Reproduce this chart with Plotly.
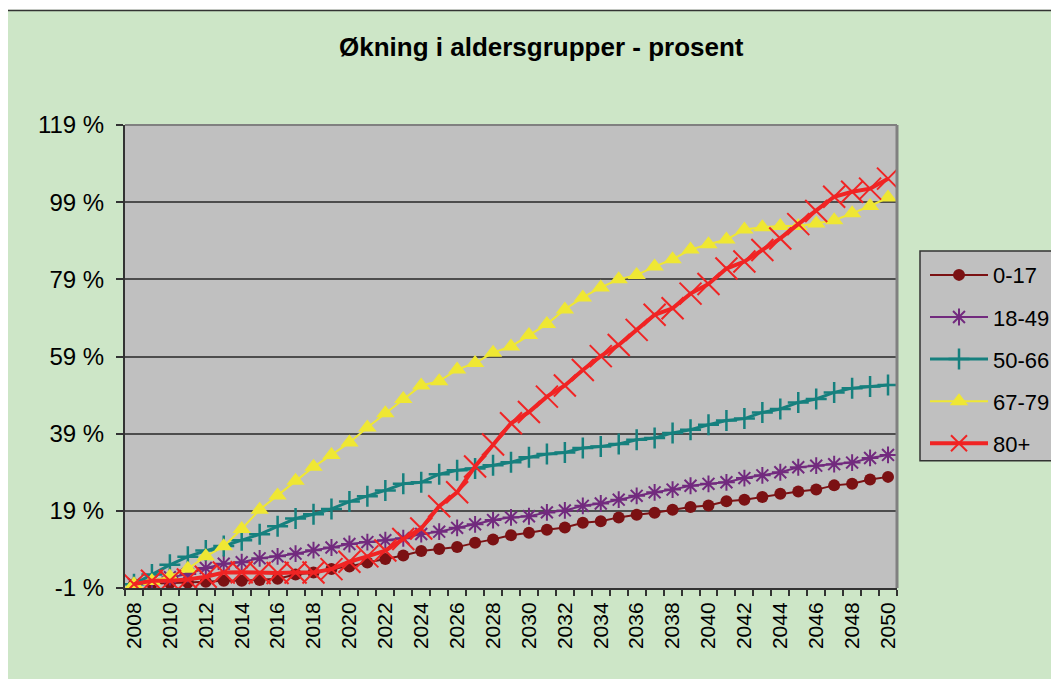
import plotly.graph_objects as go

years = list(range(2008, 2051))

age_0_17 = [0, 0.1, 0.3, 0.4, 0.6, 0.9, 0.9, 1.1, 1.4, 2.5, 3.0, 3.9, 4.6, 5.6, 6.5, 7.4,
            8.6, 9.1, 9.6, 10.7, 11.6, 12.7, 13.3, 14.1, 14.7, 15.9, 16.3, 17.3, 18.0, 18.5,
            19.3, 20.0, 20.4, 21.5, 21.9, 22.6, 23.4, 24.0, 24.5, 25.6, 26.0, 27.1, 27.8]
age_18_49 = [0, 0.9, 1.8, 2.6, 4.2, 5.3, 5.7, 6.7, 7.2, 7.9, 8.8, 9.5, 10.4, 10.9, 11.4, 11.9,
             13.0, 13.6, 14.6, 15.5, 16.6, 17.3, 17.6, 18.6, 19.1, 20.3, 20.9, 21.9, 22.9, 23.8,
             24.5, 25.5, 26.0, 26.4, 27.5, 28.2, 29.0, 30.3, 30.7, 31.1, 31.5, 32.7, 33.5]
age_50_66 = [0, 2.5, 5.0, 7.1, 8.7, 9.9, 11.4, 12.9, 15.0, 17.0, 18.1, 19.5, 21.4, 22.8, 24.3,
             26.0, 26.4, 28.5, 29.5, 30.0, 30.8, 31.6, 32.9, 33.7, 34.1, 35.3, 35.7, 36.3, 37.4,
             37.9, 39.2, 40.0, 41.3, 42.4, 42.9, 44.5, 45.4, 47.1, 48.0, 49.7, 50.8, 51.2, 51.6]
age_67_79 = [0, 0.8, 2.0, 4.0, 7.2, 9.8, 14.3, 19.3, 23.0, 26.8, 30.4, 33.5, 36.7, 40.6, 44.3,
             48.0, 51.5, 52.6, 55.6, 57.3, 60.0, 61.6, 64.6, 67.4, 71.2, 74.3, 76.9, 79.0, 80.1,
             82.3, 84.2, 86.7, 88.1, 89.3, 91.9, 92.5, 92.8, 92.8, 93.5, 94.3, 96.1, 98.0, 100.2]
age_80_plus = [0, 0.9, 0.9, 1.2, 1.9, 3.0, 3.1, 2.9, 2.9, 3.0, 3.0, 3.9, 5.8, 7.2, 8.7, 11.7,
               14.4, 20.2, 23.8, 30.5, 36.2, 41.7, 44.6, 48.6, 51.5, 55.5, 59.1, 62.0, 65.9,
               69.8, 71.5, 75.3, 77.8, 81.8, 83.6, 86.6, 89.6, 93.3, 96.7, 100.4, 101.7, 102.5, 105.1]

series_names = ["0-17", "18-49", "50-66", "67-79", "80+"]
y_ticks = [-1, 19, 39, 59, 79, 99, 119]
x_label_years = list(range(2008, 2051, 2))
title_text = "Økning i aldersgrupper - prosent"

FONT = "Arial, Liberation Sans, sans-serif"
GREEN = "#CDE6C7"

styles = [
    dict(color="#7B1113", width=2, symbol="circle", size=12, mline=0),
    dict(color="#722A7E", width=2, symbol="asterisk-open", size=14, mline=2),
    dict(color="#16807E", width=3, symbol="cross-thin-open", size=15, mline=2.5),
    dict(color="#EFE733", width=2, symbol="triangle-up", size=16, mline=0),
    dict(color="#F02424", width=4, symbol="x-thin-open", size=22, mline=2),
]
data = [age_0_17, age_18_49, age_50_66, age_67_79, age_80_plus]

fig = go.Figure()
for name, vals, st in zip(series_names, data, styles):
    fig.add_trace(go.Scatter(
        x=years, y=vals, name=name, mode="lines+markers", legendgroup=name,
        line=dict(color=st["color"], width=st["width"]),
        marker=dict(symbol=st["symbol"], size=st["size"], color=st["color"],
                    line=dict(color=st["color"], width=st["mline"])),
    ))

# page offset from default body margin
OFF = 8
W, H = 1059, 679
# plot area in page pixels
PL, PR, PT, PB = 125, 897, 124.7, 588.5
L = PL - OFF
T = PT - OFF
R = W - (PR - OFF)
B = H - (PB - OFF)
pw, ph = PR - PL, PB - PT


def px_x(px):
    return (px - PL) / pw


def px_y(py):
    return (PB - py) / ph


shapes = [
    # chart border top and left
    dict(type="line", xref="paper", yref="paper", x0=px_x(3), x1=px_x(1090),
         y0=px_y(10), y1=px_y(10), line=dict(color="#333333", width=1.5)),
    dict(type="line", xref="paper", yref="paper", x0=px_x(3), x1=px_x(3),
         y0=px_y(10), y1=px_y(720), line=dict(color="#333333", width=1.5)),
    # white strip above chart border
    dict(type="rect", xref="paper", yref="paper", x0=px_x(-20), x1=px_x(1090),
         y0=px_y(9.3), y1=px_y(-20), fillcolor="white", line=dict(width=0), layer="below"),
    # legend box
    dict(type="rect", xref="paper", yref="paper", x0=px_x(920), x1=px_x(1090),
         y0=px_y(461), y1=px_y(251), fillcolor="#C0C0C0",
         line=dict(color="#333333", width=1.5), layer="below"),
    # plot area border (top/right)
    dict(type="line", xref="paper", yref="paper", x0=0, x1=1, y0=1, y1=1,
         line=dict(color="#808080", width=2)),
    dict(type="line", xref="paper", yref="paper", x0=1, x1=1, y0=0, y1=1,
         line=dict(color="#808080", width=3)),
]

fig.update_layout(
    width=W, height=H,
    margin=dict(l=L, r=R, t=T, b=B),
    paper_bgcolor=GREEN,
    plot_bgcolor="#C0C0C0",
    font=dict(family=FONT, color="black"),
    shapes=shapes,
    showlegend=True,
    legend=dict(
        x=px_x(925), xanchor="left", y=px_y(254), yanchor="top",
        bgcolor="rgba(0,0,0,0)", borderwidth=0,
        font=dict(family=FONT, size=22, color="black"),
        tracegroupgap=10.5, itemwidth=58,
    ),
    annotations=[dict(
        text="<b>" + title_text + "</b>", xref="paper", yref="paper",
        x=px_x(541), y=px_y(47), xanchor="center", yanchor="middle",
        showarrow=False, font=dict(family=FONT, size=26, color="black"),
    )],
    hovermode=False,
)

fig.update_xaxes(
    range=[2007.5, 2050.5],
    tickmode="array", tickvals=x_label_years, ticktext=[str(y) for y in x_label_years],
    tickangle=-90, ticks="", ticklabelstandoff=4,
    tickfont=dict(family=FONT, size=21, color="black"),
    showgrid=False, zeroline=False,
    showline=True, linecolor="#333333", linewidth=2,
    minor=dict(tickmode="array", tickvals=[2007.5 + k for k in range(44)],
               ticks="outside", ticklen=6, tickcolor="#333333", tickwidth=1.5,
               showgrid=False),
)
fig.update_yaxes(
    range=[-1, 119],
    tickmode="array", tickvals=y_ticks, ticktext=[f"{v} %" for v in y_ticks],
    ticks="outside", ticklen=7, tickcolor="#333333", tickwidth=1.5,
    ticklabelstandoff=7,
    tickfont=dict(family=FONT, size=24, color="black"),
    showgrid=True, gridcolor="#4D4D4D", gridwidth=1.5,
    zeroline=False,
    showline=True, linecolor="#333333", linewidth=2,
)

fig.write_html("out.html")
